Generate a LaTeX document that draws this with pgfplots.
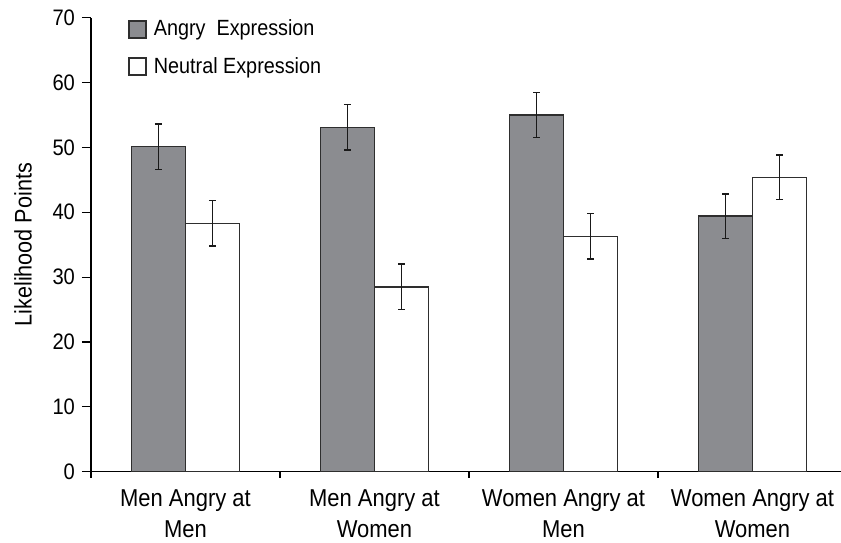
\documentclass[border=0pt]{standalone}
\usepackage{pgfplots}
\pgfplotsset{compat=1.18}
\usepackage{fontspec}
\setmainfont{Liberation Sans}[FakeStretch=0.9]
\definecolor{angryfill}{HTML}{8B8C90}
\definecolor{edgecol}{HTML}{2E2E2E}

\pgfplotstableread{
x  angry  aerr  neutral  nerr
0  50.1   3.5   38.3     3.5
1  53.1   3.5   28.5     3.5
2  55.0   3.5   36.3     3.5
3  39.4   3.45  45.4     3.45
}\likelihood

\pgfplotsset{
  witherr/.style={
    error bars/y dir=both, error bars/y explicit,
    error bars/error bar style={line width=0.75pt, black!90},
    error bars/error mark options={rotate=90, mark size=1.75pt, line width=0.75pt, black!90},
  },
}

\begin{document}
\begin{tikzpicture}
\begin{axis}[
  at={(0,0)}, anchor=south west,
  scale only axis, width=378pt, height=227pt,
  xmin=-0.5, xmax=3.5, ymin=0, ymax=70,
  axis lines=left,
  axis line style={-, line width=0.6pt, black},
  ybar=0pt, bar width=27pt,
  ytick={0,10,...,70},
  /pgf/number format/assume math mode=true,
  xtick={0,1,2,3},
  xticklabels={{Men Angry at\\Men},{Men Angry at\\Women},{Women Angry at\\Men},{Women Angry at\\Women}},
  minor xtick={-0.5,0.5,1.5,2.5,3.5},
  tick align=outside,
  major tick length=4.5pt, minor tick length=3pt,
  tick style={black, line width=0.6pt},
  major x tick style={draw=none},
  y tick label style={font=\fontsize{11.2}{13}\selectfont},
  x tick label style={font=\fontsize{12.2}{15.4}\selectfont, align=center, yshift=-1pt},
  ylabel={Likelihood Points},
  ylabel style={font=\fontsize{12}{14}\selectfont, at={(axis description cs:-0.09,0.5)}, anchor=center},
  legend style={at={(0.049,1.005)}, anchor=north west, draw=none, fill=none,
    inner sep=0pt, row sep=5.2pt, font=\fontsize{11}{13}\selectfont,
    /tikz/every odd column/.append style={column sep=1.5pt}},
  legend cell align=left,
]
\addplot[fill=angryfill, draw=edgecol, line width=0.7pt, witherr,
  legend image code/.code={\draw[fill=angryfill, draw=edgecol, line width=0.7pt] (0pt,-4.25pt) rectangle (8.5pt,4.25pt);}]
  table[x=x, y=angry, y error=aerr] {\likelihood};
\addlegendentry{Angry\ \ Expression}
\addplot[fill=white, draw=edgecol, line width=0.7pt, witherr,
  legend image code/.code={\draw[fill=white, draw=edgecol, line width=0.7pt] (0pt,-4.25pt) rectangle (8.5pt,4.25pt);}]
  table[x=x, y=neutral, y error=nerr] {\likelihood};
\addlegendentry{Neutral Expression}
\end{axis}
\pgfresetboundingbox
\useasboundingbox (-45.5pt,-35.15pt) rectangle (375pt,235.85pt);
\end{tikzpicture}
\end{document}
